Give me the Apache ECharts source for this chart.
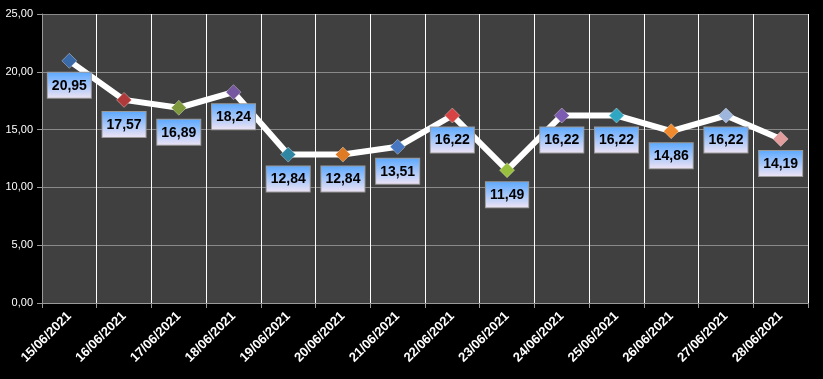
<!DOCTYPE html>
<html><head><meta charset="utf-8">
<script src="https://cdn.jsdelivr.net/npm/echarts@6/dist/echarts.min.js"></script>
<style>html,body{margin:0;padding:0;background:#000;}#c{width:823px;height:379px;}</style>
</head><body><div id="c"></div>
<script>
const categories = ['15/06/2021','16/06/2021','17/06/2021','18/06/2021','19/06/2021','20/06/2021','21/06/2021','22/06/2021','23/06/2021','24/06/2021','25/06/2021','26/06/2021','27/06/2021','28/06/2021'];
const values = [20.95,17.57,16.89,18.24,12.84,12.84,13.51,16.22,11.49,16.22,16.22,14.86,16.22,14.19];
const markerColors = ['#3b6aa8','#b03a3a','#7f9a3c','#7658a0','#2e86a3','#e07b25','#4677c0','#d84444','#98c03e','#7c5cb0','#2fa7c2','#f08a2c','#9fb6dc','#e29c9c'];

const chart = echarts.init(document.getElementById('c'));
const fmt = v => v.toFixed(2).replace('.', ',');
chart.setOption({
  backgroundColor: '#000',
  animation: false,
  grid: {left: 42, right: 15, top: 14, bottom: 76, show: true, backgroundColor: '#404040', borderWidth: 0},
  xAxis: {
    type: 'category', data: categories, boundaryGap: true,
    axisLine: {lineStyle: {color: '#9a9a9a', width: 1}},
    axisTick: {show: true, length: 5, lineStyle: {color: '#9a9a9a'}},
    splitLine: {show: true, lineStyle: {color: '#ffffff', width: 1}},
    axisLabel: {color: '#fff', rotate: 45, fontSize: 13, fontWeight: 'bold', fontFamily: 'Liberation Sans', margin: 11}
  },
  yAxis: {
    type: 'value', min: 0, max: 25, interval: 5,
    axisLine: {show: true, lineStyle: {color: '#9a9a9a'}},
    axisTick: {show: true, length: 5, lineStyle: {color: '#9a9a9a'}},
    splitLine: {lineStyle: {color: '#8a8a8a', width: 1}},
    axisLabel: {color: '#fff', fontSize: 11, fontFamily: 'Liberation Sans', margin: 9, formatter: v => fmt(v)}
  },
  series: [{
    type: 'line', data: values.map((v, i) => ({value: v, itemStyle: {color: markerColors[i]}})),
    symbol: 'diamond', symbolSize: 15,
    lineStyle: {color: '#fff', width: 6},
    itemStyle: {borderColor: 'rgba(255,255,255,0.35)', borderWidth: 1},
    label: {
      show: true, position: 'bottom', distance: 4,
      formatter: p => fmt(p.value),
      color: '#000', fontSize: 14, fontWeight: 'bold', fontFamily: 'Liberation Sans',
      lineHeight: 16,
      padding: [5, 4, 4, 4],
      borderColor: '#9a9a9a', borderWidth: 1,
      backgroundColor: {type: 'linear', x: 0, y: 0, x2: 0, y2: 1, colorStops: [{offset: 0, color: '#5aa8ff'}, {offset: 1, color: '#f0e4f4'}]}
    }
  }]
});
</script></body></html>
